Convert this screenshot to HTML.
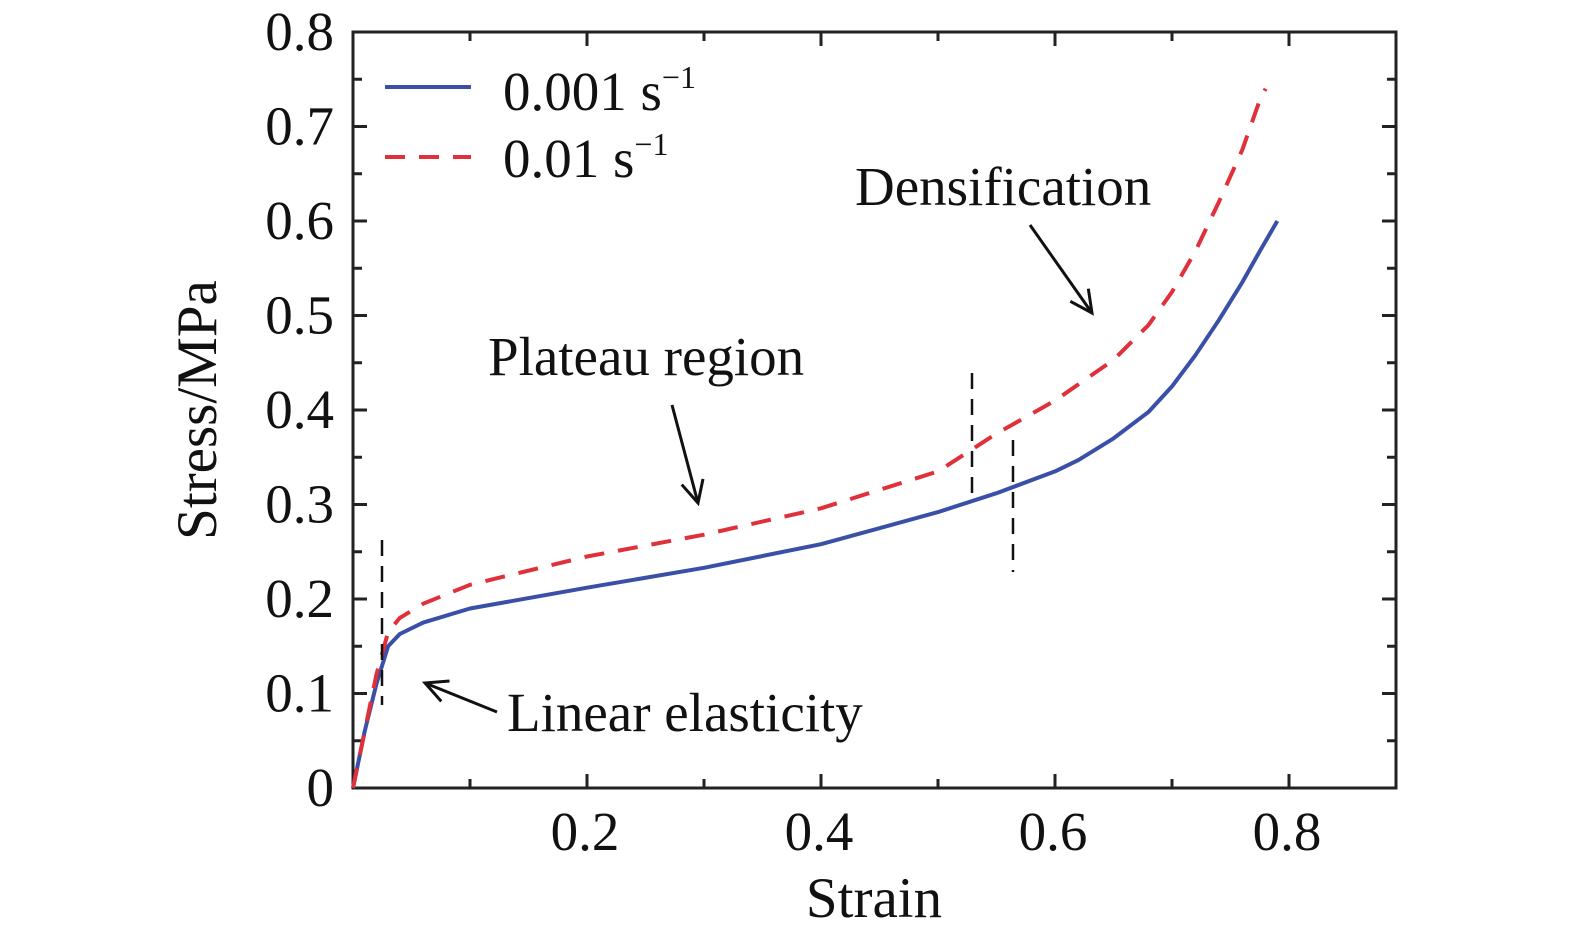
<!DOCTYPE html>
<html><head><meta charset="utf-8"><style>
html,body{margin:0;padding:0;background:#fff;}
svg{display:block;font-family:"Liberation Serif",serif;}
</style></head><body>
<svg id="chart" width="1575" height="945" viewBox="0 0 1575 945" xmlns="http://www.w3.org/2000/svg">
<g id="axes"></g>
<g id="series"></g>
<g id="annot"></g>
</svg>
<script>
const strainA = [0,0.01,0.02,0.03,0.04,0.06,0.1,0.2,0.3,0.4,0.5,0.55,0.6,0.62,0.65,0.68,0.7,0.72,0.74,0.76,0.775,0.79];
const stressA = [0,0.06,0.11,0.15,0.163,0.175,0.19,0.212,0.233,0.258,0.292,0.312,0.335,0.347,0.37,0.398,0.425,0.458,0.495,0.535,0.568,0.6];
const strainB = [0,0.01,0.02,0.03,0.04,0.06,0.1,0.2,0.3,0.4,0.5,0.55,0.6,0.65,0.68,0.7,0.72,0.74,0.76,0.775,0.78];
const stressB = [0,0.06,0.12,0.165,0.18,0.195,0.215,0.245,0.268,0.296,0.335,0.375,0.41,0.453,0.49,0.525,0.568,0.62,0.675,0.728,0.74];
const xTicks = [0.2,0.4,0.6,0.8];
const yTicks = [0,0.1,0.2,0.3,0.4,0.5,0.6,0.7,0.8];
const NS="http://www.w3.org/2000/svg";
const X = v => 353 + v*1170;
const Y = v => 788 - v*945;
function mk(tag, attrs, parent, text){const e=document.createElementNS(NS,tag);for(const k in attrs)e.setAttribute(k,attrs[k]);if(text!==undefined)e.textContent=text;parent.appendChild(e);return e;}
const ax=document.getElementById('axes'), se=document.getElementById('series'), an=document.getElementById('annot');
let f=mk('rect',{x:353,y:32,width:1043,height:756,fill:'none',stroke:'#222','stroke-width':3},ax);


for(let i=1;i<=8;i++){const v=i*0.1,len=(i%2==0)?14:9;
 let t=mk('path',{d:`M${X(v)} 788v${-len}M${X(v)} 32v${len}`,stroke:'#222','stroke-width':3},ax);
 
 }
for(let i=1;i<16;i++){const v=i*0.05,len=(i%2==0)?14:9;
 let t=mk('path',{d:`M353 ${Y(v)}h${len}M1396 ${Y(v)}h${-len}`,stroke:'#222','stroke-width':3},ax);
 
 }
xTicks.forEach(v=>{let t=mk('text',{x:X(v)-2,y:850,'font-size':55,'text-anchor':'middle',fill:'#111'},ax,String(v));
 
 });
yTicks.forEach(v=>{let t=mk('text',{x:334,y:Y(v)+18,'font-size':55,'text-anchor':'end',fill:'#111'},ax,v===0?'0':v.toFixed(1));
 
 });
let xt=mk('text',{x:874,y:917,'font-size':57,'text-anchor':'middle',fill:'#111'},ax,'Strain');


let yt=mk('text',{x:0,y:0,'font-size':57,'text-anchor':'middle',fill:'#111',transform:'translate(216,410) rotate(-90)'},ax,'Stress/MPa');


function pathOf(xs,ys){let d='';xs.forEach((x,i)=>{d+=(i?'L':'M')+X(x).toFixed(1)+' '+Y(ys[i]).toFixed(1);});return d;}
let pa=mk('path',{d:pathOf(strainA,stressA),fill:'none',stroke:'#3a4fa8','stroke-width':4,'stroke-linejoin':'round'},se);


let pb=mk('path',{d:pathOf(strainB,stressB),fill:'none',stroke:'#e0303a','stroke-width':4,'stroke-dasharray':'20 14','stroke-linejoin':'round'},se);


let l1=mk('path',{d:'M385 87H471',stroke:'#3a4fa8','stroke-width':4},an);


let l2=mk('path',{d:'M385 157H471',stroke:'#e0303a','stroke-width':4,'stroke-dasharray':'20 14'},an);


let lt1=mk('text',{x:503,y:110,'font-size':55,fill:'#111'},an);lt1.innerHTML='0.001 s<tspan dy="-22" font-size="32">−1</tspan>';


let lt2=mk('text',{x:503,y:177,'font-size':55,fill:'#111'},an);lt2.innerHTML='0.01 s<tspan dy="-22" font-size="32">−1</tspan>';


[[382,540,705],[972,373,500],[1013,440,572]].forEach(m=>{let d=mk('path',{d:`M${m[0]} ${m[1]}V${m[2]}`,stroke:'#111','stroke-width':2.5,'stroke-dasharray':'16 10'},an);
 
 });
[[497,712,425,683],[672,405,698,503],[1030,225,1092,313]].forEach(a=>{let p=mk('line',{x1:a[0],y1:a[1],x2:a[2],y2:a[3],stroke:'#111','stroke-width':3},an);
 
 
 const dx=a[2]-a[0],dy=a[3]-a[1],L=Math.hypot(dx,dy),ux=dx/L,uy=dy/L,s=22,w=11;
 let h=mk('path',{d:`M${a[2]-ux*s-uy*w} ${a[3]-uy*s+ux*w}L${a[2]} ${a[3]}L${a[2]-ux*s+uy*w} ${a[3]-uy*s-ux*w}`,fill:'none',stroke:'#111','stroke-width':3},an);
 
 });
[['Densification',855,205,'densification-label'],['Plateau region',488,375,'plateau-label'],['Linear elasticity',507,731,'linear-elasticity-label']].forEach(t=>{let e=mk('text',{x:t[1],y:t[2],'font-size':55,fill:'#111'},an,t[0]);
 
 });
</script>
</body></html>
